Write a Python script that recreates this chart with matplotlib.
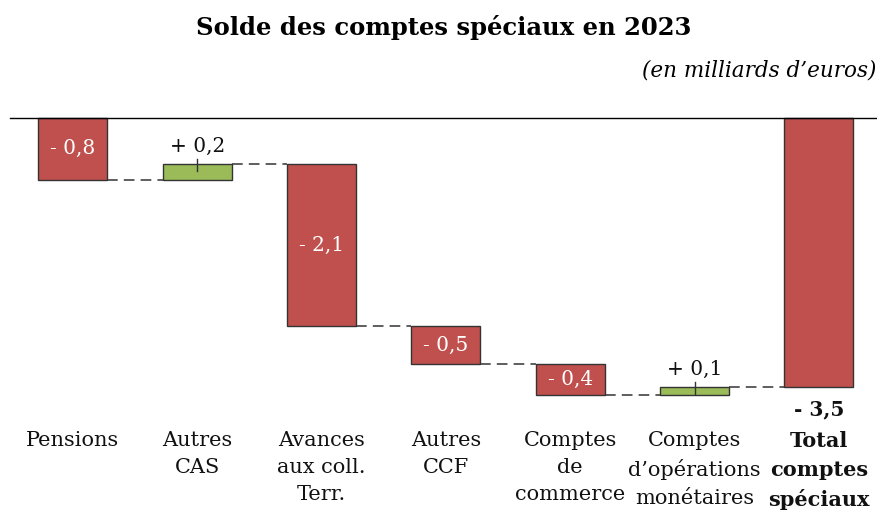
import numpy as np
import matplotlib.pyplot as plt
from matplotlib.transforms import blended_transform_factory

plt.rcParams['font.family'] = ['DejaVu Serif']

categories = ['Pensions', 'Autres\nCAS', 'Avances\naux coll.\nTerr.', 'Autres\nCCF',
              'Comptes\nde\ncommerce', 'Comptes\nd’opérations\nmonétaires',
              'Total\ncomptes\nspéciaux']
changes = [-0.8, 0.2, -2.1, -0.5, -0.4, 0.1]
total = -3.5

red = '#C0504D'
green = '#9BBB59'
edge = '#333333'

def fmt(v):
    sign = '+' if v > 0 else '-'
    return f'{sign} {abs(v):.1f}'.replace('.', ',')

fig = plt.figure(figsize=(8.78, 5.12), dpi=100)
ax = fig.add_axes([0, 0, 1, 1])
ax.set_xlim(-0.587, 6.475)
ax.set_ylim(-5.117, 1.532)
ax.axis('off')

W = 0.555
levels = np.concatenate([[0], np.cumsum(changes)])
n = len(changes)

for i, v in enumerate(changes):
    start, end = levels[i], levels[i + 1]
    color = red if v < 0 else green
    ax.bar(i, end - start, bottom=start, width=W, color=color,
           edgecolor=edge, linewidth=1, zorder=3)
    if v < 0:
        ax.text(i, (start + end) / 2, fmt(v), color='white', fontsize=14.5,
                ha='center', va='center', zorder=4)
    else:
        top = max(start, end)
        ax.plot([i, i], [top - 0.09, top + 0.065], color=edge, lw=1, zorder=4)
        ax.text(i, top + 0.11, fmt(v), color='#111111', fontsize=14.5,
                ha='center', va='bottom', zorder=4)

# total bar
ax.bar(n, total, bottom=0, width=W, color=red, edgecolor=edge,
       linewidth=1, zorder=3)
ax.text(n, total - 0.15, fmt(total), color='#111111', fontsize=14.5,
        fontweight='bold', ha='center', va='top')

# dashed connectors between bars
for i in range(n):
    ax.plot([i + W / 2, i + 1 - W / 2], [levels[i + 1]] * 2, color=edge,
            lw=1.1, ls=(0, (7, 4)), zorder=2)

# zero line
ax.plot([-0.507, 6.475], [0, 0], color='black', lw=1, zorder=5)

# category labels
trans = blended_transform_factory(ax.transData, fig.transFigure)
for i, c in enumerate(categories):
    ax.text(i, 1 - 431 / 512, c, transform=trans, ha='center', va='top',
            fontsize=15, linespacing=1.55, color='#111111',
            fontweight='bold' if i == n else 'normal')

fig.text(444 / 878, 1 - 28 / 512, 'Solde des comptes spéciaux en 2023',
         ha='center', va='center', fontsize=17.5, fontweight='bold')
fig.text(876 / 878, 1 - 70 / 512, '(en milliards d’euros)', ha='right',
         va='center', fontsize=15.5, style='italic')

fig.savefig('out.png', dpi=100)
